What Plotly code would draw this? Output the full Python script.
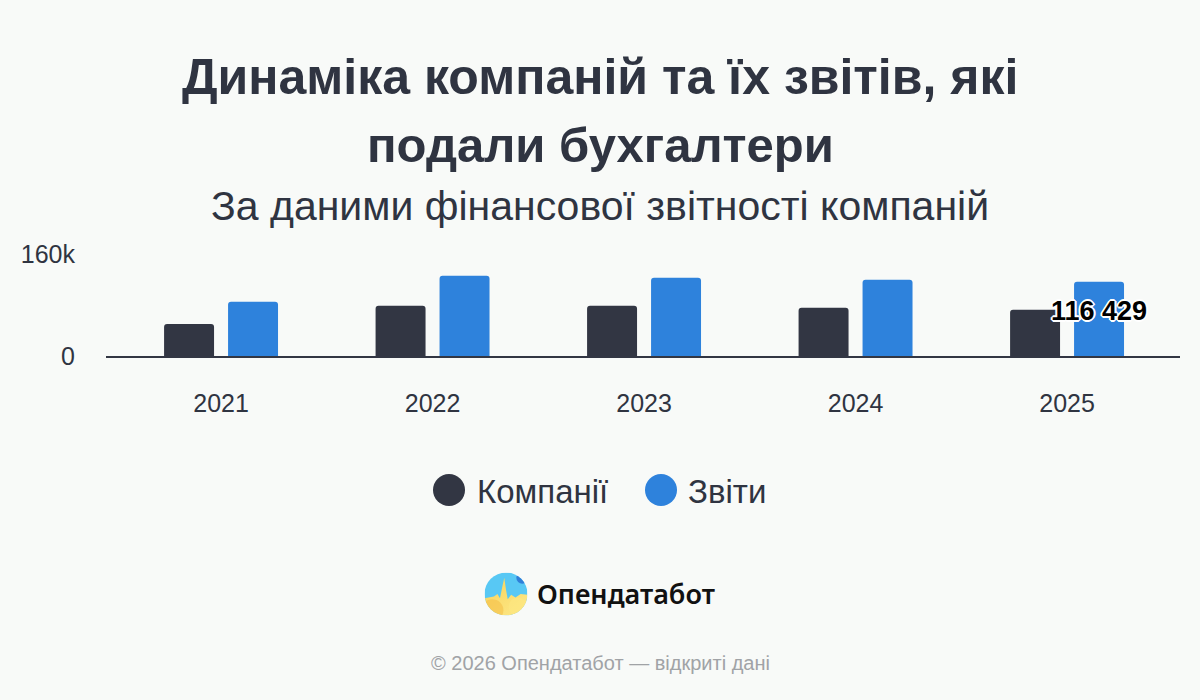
import base64
import plotly.graph_objects as go

# ---- data ----
years = ["2021", "2022", "2023", "2024", "2025"]
companies = [50300, 78700, 78700, 75500, 72400]
reports = [85000, 126000, 122700, 119500, 116429]
series_names = ["Компанії", "Звіти"]
y_tick_vals = [0, 160000]
y_tick_text = ["0", "160k"]

title_line1 = "Динаміка компаній та їх звітів, які"
title_line2 = "подали бухгалтери"
subtitle = "За даними фінансової звітності компаній"
brand = "Опендатабот"
footer = "© 2026 Опендатабот — відкриті дані"

# ---- style ----
W, H = 1200, 700
BG = "#f8faf8"
TXT = "#2f3441"
DARK = "#323643"
BLUE = "#2e82dc"
FONT = "Liberation Sans, Arial, Helvetica, sans-serif"

L, R, T, B = 106, 20, 254, 344
PW, PH = W - L - R, H - T - B
X_RANGE = [-0.544, 4.534]
BARGAP = 0.395
BARGROUPGAP = 0.219


def px_x(px):
    return (px - L) / PW


def px_y(py):
    return (H - B - py) / PH


def fmt(v):
    return f"{v:,}".replace(",", " ")


# pixel offset of the second series' bar centre from the category centre
unit_px = PW / (X_RANGE[1] - X_RANGE[0])
slot_px = unit_px * (1 - BARGAP) / 2
label_xshift = slot_px / 2
label_idx = len(years) - 1

fig = go.Figure()
fig.add_trace(go.Bar(
    x=years, y=companies, name=series_names[0],
    marker=dict(color=DARK, line=dict(width=0)),
    showlegend=False, hoverinfo="skip",
))
fig.add_trace(go.Bar(
    x=years, y=reports, name=series_names[1],
    marker=dict(color=BLUE, line=dict(width=0)),
    showlegend=False, hoverinfo="skip",
))

halo = ("2px 0 0 #fff, -2px 0 0 #fff, 0 2px 0 #fff, 0 -2px 0 #fff, "
        "1px 1px 0 #fff, -1px -1px 0 #fff, 1px -1px 0 #fff, -1px 1px 0 #fff")

annotations = [
    dict(text=fmt(reports[label_idx]), x=label_idx, y=reports[label_idx], xref="x", yref="y",
         xshift=label_xshift, yshift=-29, showarrow=False,
         xanchor="center", yanchor="middle",
         font=dict(family=FONT, size=27, color="#000000", weight="bold", shadow=halo)),
    dict(text=f"<b>{title_line1}</b>", x=px_x(600), y=px_y(77), xref="paper", yref="paper",
         showarrow=False, xanchor="center", yanchor="middle",
         font=dict(family=FONT, size=50, color=TXT)),
    dict(text=f"<b>{title_line2}</b>", x=px_x(600), y=px_y(145), xref="paper", yref="paper",
         showarrow=False, xanchor="center", yanchor="middle",
         font=dict(family=FONT, size=49, color=TXT)),
    dict(text=subtitle, x=px_x(600), y=px_y(206), xref="paper", yref="paper",
         showarrow=False, xanchor="center", yanchor="middle",
         font=dict(family=FONT, size=41, color=TXT)),
    dict(text=series_names[0], x=px_x(475), y=px_y(491), xref="paper", yref="paper",
         showarrow=False, xanchor="left", yanchor="middle",
         font=dict(family=FONT, size=33, color=TXT)),
    dict(text=series_names[1], x=px_x(686), y=px_y(491), xref="paper", yref="paper",
         showarrow=False, xanchor="left", yanchor="middle",
         font=dict(family=FONT, size=33, color=TXT)),
    dict(text=brand, x=px_x(535), y=px_y(593), xref="paper", yref="paper",
         showarrow=False, xanchor="left", yanchor="middle",
         font=dict(family="Noto Sans, sans-serif", size=27, color="#111111", weight=600)),
    dict(text=footer, x=px_x(600), y=px_y(663), xref="paper", yref="paper",
         showarrow=False, xanchor="center", yanchor="middle",
         font=dict(family=FONT, size=20, color="#a0a3a6")),
]

shapes = []
for cx, col in [(449, DARK), (661, BLUE)]:
    r = 16
    shapes.append(dict(type="circle", xref="paper", yref="paper",
                       x0=px_x(cx - r), x1=px_x(cx + r), y0=px_y(490 + r), y1=px_y(490 - r),
                       fillcolor=col, line=dict(width=0), layer="above"))

logo_svg = (
    "<svg xmlns='http://www.w3.org/2000/svg' viewBox='0 0 100 100'>"
    "<defs><clipPath id='c'><circle cx='50' cy='50' r='50'/></clipPath>"
    "<linearGradient id='g' x1='0' y1='0' x2='1' y2='1'>"
    "<stop offset='0' stop-color='#f8d35a'/><stop offset='1' stop-color='#fde98a'/></linearGradient></defs>"
    "<g clip-path='url(#c)'>"
    "<rect width='100' height='100' fill='#58c8f4'/>"
    "<circle cx='88' cy='12' r='14' fill='#2f7fd8'/>"
    "<path d='M0,60 L22,56 L30,50 L36,60 L42,30 L46,12 L50,40 L54,62 L62,52 L72,58 L84,50 L100,52 L100,100 L0,100 Z' fill='url(#g)'/>"
    "<circle cx='78' cy='80' r='22' fill='#fde680' opacity='0.8'/>"
    "<circle cx='18' cy='88' r='26' fill='#f5c04a' opacity='0.6'/>"
    "</g></svg>"
)
logo_uri = "data:image/svg+xml;base64," + base64.b64encode(logo_svg.encode()).decode()

fig.update_layout(
    width=W, height=H,
    margin=dict(l=L, r=R, t=T, b=B, pad=0),
    paper_bgcolor=BG, plot_bgcolor=BG,
    barmode="group", bargap=BARGAP, bargroupgap=BARGROUPGAP,
    barcornerradius=3,
    showlegend=False,
    font=dict(family=FONT, color=TXT),
    annotations=annotations,
    shapes=shapes,
    images=[dict(source=logo_uri, xref="paper", yref="paper",
                 x=px_x(506), y=px_y(594), sizex=43 / PW, sizey=43 / PH,
                 xanchor="center", yanchor="middle", sizing="contain", layer="above")],
    xaxis=dict(type="category", range=X_RANGE, showgrid=False, zeroline=False,
               showline=True, linecolor=DARK, linewidth=2, ticks="",
               tickfont=dict(family=FONT, size=25, color=TXT), ticklabelstandoff=24,
               fixedrange=True),
    yaxis=dict(range=[0, 160000], tickvals=y_tick_vals, ticktext=y_tick_text,
               showgrid=False, zeroline=False, showline=False, ticks="",
               tickfont=dict(family=FONT, size=25, color=TXT), ticklabelstandoff=30,
               fixedrange=True),
)

fig.write_html("out.html", config={"displayModeBar": False})
